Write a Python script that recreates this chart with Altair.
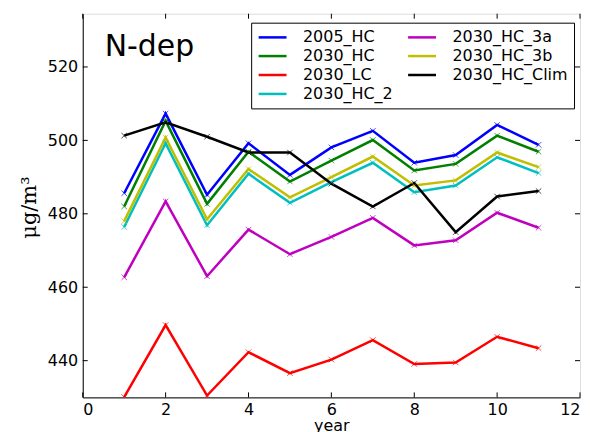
import altair as alt
import pandas as pd

years = list(range(1, 12))
series_names = ["2005_HC", "2030_HC", "2030_LC", "2030_HC_2", "2030_HC_3a", "2030_HC_3b", "2030_HC_Clim"]
series_colors = ["#0000ff", "#008000", "#ff0000", "#00bfbf", "#bf00bf", "#bfbf00", "#000000"]

v_2005_HC = [485.6, 507.3, 485.2, 499.2, 490.6, 498.1, 502.6, 493.9, 496.0, 504.2, 498.8]
v_2030_HC = [482.0, 505.3, 482.7, 496.9, 488.8, 494.5, 500.1, 491.8, 493.6, 501.3, 496.9]
v_2030_LC = [430.1, 449.7, 430.5, 442.3, 436.6, 440.3, 445.6, 439.1, 439.5, 446.5, 443.4]
v_2030_HC_2 = [476.4, 499.2, 476.9, 490.9, 483.0, 488.6, 493.9, 485.9, 487.7, 495.4, 491.1]
v_2030_HC_3a = [462.7, 483.4, 463.0, 475.7, 469.0, 473.7, 478.9, 471.4, 472.8, 480.3, 476.2]
v_2030_HC_3b = [478.0, 500.8, 478.5, 492.2, 484.5, 490.0, 495.6, 487.7, 489.1, 496.7, 492.7]
v_2030_HC_Clim = [501.3, 504.9, 501.0, 496.7, 496.7, 488.2, 482.0, 488.4, 475.0, 484.7, 486.2]

series_values = [v_2005_HC, v_2030_HC, v_2030_LC, v_2030_HC_2, v_2030_HC_3a, v_2030_HC_3b, v_2030_HC_Clim]

x_ticks = [0, 2, 4, 6, 8, 10, 12]
y_ticks = [440, 460, 480, 500, 520]
x_domain = [0, 12]
y_domain = [430, 534.5]

rows = []
for i, (name, vals) in enumerate(zip(series_names, series_values)):
    for yr, v in zip(years, vals):
        rows.append({"year": yr, "value": v, "series": name, "ord": i})
df = pd.DataFrame(rows)

W, H = 499, 385
FONT = "DejaVu Sans"

xs = alt.Scale(domain=x_domain, nice=False, zero=False)
ys = alt.Scale(domain=y_domain, nice=False, zero=False)
cs = alt.Scale(domain=series_names, range=series_colors)

color = alt.Color(
    "series:N",
    scale=cs,
    legend=alt.Legend(
        orient="none", legendX=169, legendY=9, columns=2, title=None,
        symbolType="M-1,0H3", symbolSize=196, symbolStrokeWidth=2.5,
        labelFontSize=16, labelFont=FONT, labelColor="black",
        strokeColor="black", fillColor="white", padding=6,
        rowPadding=2, columnPadding=9, labelOffset=29, gridAlign="each",
    ),
)

x_enc = alt.X(
    "year:Q", scale=xs, title="year",
    axis=alt.Axis(values=x_ticks, grid=False, tickSize=0, labelPadding=4,
                  labelFontSize=16, labelFont=FONT, labelColor="black",
                  titleFontSize=16, titleFont=FONT, titleFontWeight="normal",
                  titleColor="black", titlePadding=0, domainColor="black"),
)
y_enc = alt.Y(
    "value:Q", scale=ys, title="μg/m³",
    axis=alt.Axis(values=y_ticks, grid=False, tickSize=0, labelPadding=5,
                  labelFontSize=16, labelFont=FONT, labelColor="black",
                  titleFontSize=21, titleFont="DejaVu Serif", titleFontWeight="normal",
                  titleColor="black", titleAngle=-90, titleX=-53, titleY=194,
                  titleAlign="center", titleBaseline="middle", domainColor="black"),
)

lines = alt.Chart(df).mark_line(strokeWidth=2.5, clip=True).encode(
    x=x_enc, y=y_enc, color=color, order=alt.Order("ord:Q"),
)
points = alt.Chart(df).mark_point(
    shape="M-1,-1L1,1M-1,1L1,-1", filled=False, size=30, strokeWidth=1, clip=True, opacity=0.7
).encode(
    x=alt.X("year:Q", scale=xs), y=alt.Y("value:Q", scale=ys),
    color=alt.Color("series:N", scale=cs, legend=None),
)

xt = pd.DataFrame({"t": x_ticks})
yt = pd.DataFrame({"t": y_ticks})
xb = alt.Chart(xt).mark_rule(color="black", strokeWidth=1).encode(
    x=alt.X("t:Q", scale=xs), y=alt.value(H), y2=alt.value(H - 5))
xtop = alt.Chart(xt).mark_rule(color="black", strokeWidth=1).encode(
    x=alt.X("t:Q", scale=xs), y=alt.value(0), y2=alt.value(5))
yl = alt.Chart(yt).mark_rule(color="black", strokeWidth=1).encode(
    y=alt.Y("t:Q", scale=ys), x=alt.value(0), x2=alt.value(5))
yr = alt.Chart(yt).mark_rule(color="black", strokeWidth=1).encode(
    y=alt.Y("t:Q", scale=ys), x=alt.value(W), x2=alt.value(W - 5))

label = alt.Chart(pd.DataFrame({"t": ["N-dep"]})).mark_text(
    fontSize=30, font=FONT, align="left", baseline="alphabetic", color="black"
).encode(text="t:N", x=alt.value(22), y=alt.value(42))

chart = alt.layer(lines, points, xb, xtop, yl, yr, label).properties(
    width=W, height=H,
    autosize=alt.AutoSizeParams(type="none"),
    padding={"left": 75, "top": 5, "right": 2, "bottom": 34},
).configure_view(stroke="black", strokeWidth=1).configure(background="white")

chart.save("out.html", embed_options={"renderer": "svg", "actions": False})
